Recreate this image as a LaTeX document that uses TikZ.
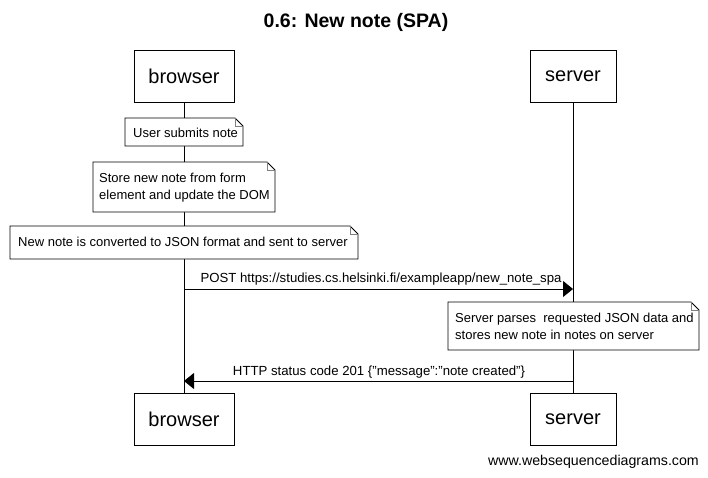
\documentclass[tikz,border=0pt]{standalone}
\usepackage{fontspec}
\setmainfont{Liberation Sans}
\usetikzlibrary{arrows.meta}
\begin{document}
\begin{tikzpicture}[x=1pt,y=-1pt,
  actor/.style={draw,line width=0.8pt,fill=white,minimum height=52pt,inner sep=0pt,font=\fontsize{20}{24}\selectfont},
  notetext/.style={align=left,font=\fontsize{13}{17}\selectfont,inner sep=0pt},
  msg/.style={font=\fontsize{13.2}{16}\selectfont,inner sep=0pt},
  life/.style={line width=0.8pt},
  arr/.style={line width=0.8pt,-{Triangle[length=10pt,width=16pt]}}
]
\useasboundingbox (0,0) rectangle (708,477);
\fill[white] (0,0) rectangle (708,477);
\node[font=\bfseries\fontsize{19.5}{23}\selectfont] (title) at (356,22) {0.6: New note (SPA)};
% lifelines
\coordinate (bt) at (184,102); \coordinate (bb) at (184,393);
\coordinate (st) at (573,102); \coordinate (sb) at (573,393);
\draw[life] (bt) -- (bb);
\draw[life] (st) -- (sb);
% actors
\node[actor,minimum width=100pt] (b1) at (184,76) {browser};
\node[actor,minimum width=86pt] (s1) at (573,76) {server};
\node[actor,minimum width=100pt] (b2) at (184,419) {browser};
\node[actor,minimum width=86pt] (s2) at (573,419) {server};
% notes
\newcommand{\mynote}[4]{%
  \draw[line width=0.8pt,fill=white] (#1,#2) -- (#3-8,#2) -- (#3,#2+8) -- (#3,#4) -- (#1,#4) -- cycle;
  \draw[line width=0.6pt,gray] (#3-8,#2) -- (#3-8,#2+8) -- (#3,#2+8);
}
\mynote{125}{118}{243}{146}
\node[notetext,anchor=west] (n1) at (133,133) {User submits note};
\mynote{93}{162}{275}{212}
\node[notetext,anchor=west] (n2) at (99,188) {Store new note from form\\element and update the DOM};
\mynote{10}{226}{358}{259}
\node[notetext,anchor=west] (n3) at (18,242) {New note is converted to JSON format and sent to server};
\mynote{448}{302}{699}{350}
\node[notetext,anchor=west] (n4) at (455,326) {Server parses\ \ requested JSON data and\\stores new note in notes on server};
% messages
\coordinate (p1) at (184,289); \coordinate (p2) at (573,289);
\draw[arr] (p1) -- (p2);
\node[msg] (m1) at (381,279) {POST https://studies.cs.helsinki.fi/exampleapp/new\_note\_spa};
\coordinate (r1) at (573,381); \coordinate (r2) at (184,381);
\draw[arr] (r1) -- (r2);
\node[msg] (m2) at (379,372) {HTTP status code 201 \{"message":"note created"\}};
\node[font=\fontsize{14.2}{17}\selectfont,inner sep=0pt,anchor=east] (wsd) at (699,462) {www.websequencediagrams.com};
\end{tikzpicture}
\end{document}
